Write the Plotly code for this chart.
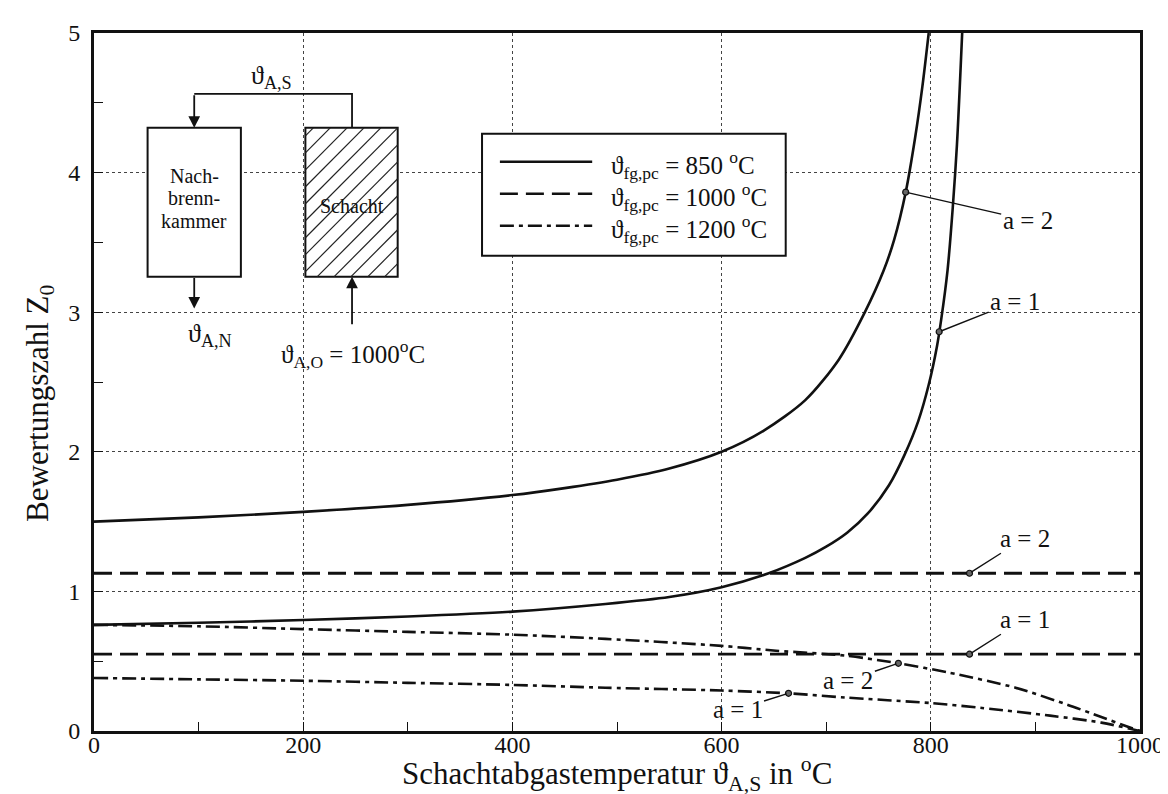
import plotly.graph_objects as go

# ---------------- data ----------------
t_850_a2 = [0, 100, 200, 300, 400, 450, 500, 550, 600, 640, 680, 712, 737, 755, 765, 776, 785, 792, 798]
z_850_a2 = [1.50, 1.53, 1.57, 1.62, 1.69, 1.74, 1.80, 1.88, 2.00, 2.15, 2.37, 2.66, 3.00, 3.30, 3.52, 3.86, 4.25, 4.62, 5.0]

t_850_a1 = [0, 100, 200, 300, 400, 489, 550, 600, 645, 680, 700, 720, 740, 760, 775, 788, 798, 806, 810, 816, 821, 825, 830]
z_850_a1 = [0.76, 0.775, 0.795, 0.82, 0.855, 0.91, 0.96, 1.03, 1.13, 1.24, 1.32, 1.42, 1.56, 1.76, 1.98, 2.22, 2.48, 2.76, 2.95, 3.30, 3.75, 4.20, 5.0]

t_1000 = [0, 1000]
z_1000_a2 = [1.13, 1.13]
z_1000_a1 = [0.55, 0.55]

t_1200_a2 = [0, 100, 200, 300, 400, 489, 600, 652, 718, 769, 816, 881, 930, 963, 985, 1000]
z_1200_a2 = [0.76, 0.75, 0.73, 0.71, 0.69, 0.66, 0.61, 0.575, 0.54, 0.485, 0.42, 0.31, 0.19, 0.10, 0.04, 0.0]

t_1200_a1 = [0, 100, 200, 300, 400, 489, 600, 664, 718, 800, 849, 914, 963, 1000]
z_1200_a1 = [0.38, 0.37, 0.36, 0.345, 0.33, 0.31, 0.29, 0.27, 0.24, 0.20, 0.165, 0.11, 0.06, 0.0]

label_t = [776, 808, 837, 837, 769, 664]
label_z = [3.86, 2.86, 1.13, 0.55, 0.485, 0.27]
label_text = ["a = 2", "a = 1", "a = 2", "a = 1", "a = 2", "a = 1"]

legend_names = ["\u03d1<sub>fg,pc</sub> = 850 <sup>o</sup>C",
                "\u03d1<sub>fg,pc</sub> = 1000 <sup>o</sup>C",
                "\u03d1<sub>fg,pc</sub> = 1200 <sup>o</sup>C"]

x_ticks = [0, 200, 400, 600, 800, 1000]
y_ticks = [0, 1, 2, 3, 4, 5]

# ---------------- layout helpers ----------------
FONT = "Liberation Serif, Times New Roman, serif"
X0, X1, Y0, Y1 = 86, 1140, 723, 24
W, H = 1168, 794


def dx(px):
    return (px - X0) / (X1 - X0) * 1000


def dy(py):
    return (Y0 - py) / (Y0 - Y1) * 5


def px_x(px):
    return (px - X0) / (X1 - X0)


def px_y(py):
    return (Y0 - py) / (Y0 - Y1)


SOLID = dict(color="#111", width=2.6)
DASH = dict(color="#111", width=2.8, dash="18px,8px")
DASHDOT = dict(color="#111", width=2.6, dash="14px,5px,4px,5px")

fig = go.Figure()
series = [
    (t_850_a2, z_850_a2, SOLID),
    (t_850_a1, z_850_a1, SOLID),
    (t_1000, z_1000_a2, DASH),
    (t_1000, z_1000_a1, DASH),
    (t_1200_a2, z_1200_a2, DASHDOT),
    (t_1200_a1, z_1200_a1, DASHDOT),
]
for t, z, ln in series:
    fig.add_trace(go.Scatter(x=t, y=z, mode="lines", line=dict(shape="spline", smoothing=0.8, **ln),
                             showlegend=False, hoverinfo="skip"))

fig.add_trace(go.Scatter(x=label_t, y=label_z, mode="markers",
                         marker=dict(size=6, color="#666", line=dict(color="#111", width=1.2)),
                         showlegend=False, hoverinfo="skip"))

shapes = []
annotations = []

# label leader lines (pixel offsets from the point to the text)
offsets = [(122, 28), (76, -30), (55, -35), (55, -35), (-50, 17), (-51, 16)]
for t, z, txt, (ax, ay) in zip(label_t, label_z, label_text, offsets):
    annotations.append(dict(x=t, y=z, xref="x", yref="y", text=txt, showarrow=True,
                            arrowhead=0, arrowwidth=1.4, arrowcolor="#111", ax=ax, ay=ay,
                            standoff=2, font=dict(family=FONT, size=25, color="#111")))

# ---------------- manual legend ----------------
shapes.append(dict(type="rect", xref="paper", yref="paper",
                   x0=px_x(477), x1=px_x(783), y0=px_y(247), y1=px_y(125),
                   line=dict(color="#111", width=2), fillcolor="white", layer="above"))
leg_styles = [SOLID, DASH, DASHDOT]
for i, (name, st) in enumerate(zip(legend_names, leg_styles)):
    yy = [153, 185, 217][i]
    shapes.append(dict(type="line", xref="paper", yref="paper",
                       x0=px_x(495), x1=px_x(588), y0=px_y(yy), y1=px_y(yy),
                       line=dict(color="#111", width=2.6, dash=st.get("dash", "solid")), layer="above"))
    annotations.append(dict(x=px_x(605), y=px_y(yy + 3), xref="paper", yref="paper", text=name,
                            showarrow=False, xanchor="left", yanchor="middle",
                            font=dict(family=FONT, size=25, color="#111")))

# ---------------- inset diagram ----------------
box_l = (140, 119, 234, 268)
box_r = (299, 119, 392, 268)
for (a, b, c, d) in (box_l, box_r):
    shapes.append(dict(type="rect", xref="x", yref="y", x0=dx(a), x1=dx(c), y0=dy(d), y1=dy(b),
                       line=dict(color="#111", width=2), fillcolor="white", layer="above"))
# hatching of the shaft box
xa0, ya0, xa1, ya1 = box_r
c = xa0 + ya0 + 8
while c < xa1 + ya1:
    xs = max(xa0, c - ya1)
    xe = min(xa1, c - ya0)
    if xe > xs:
        shapes.append(dict(type="line", xref="x", yref="y", x0=dx(xs), y0=dy(c - xs),
                           x1=dx(xe), y1=dy(c - xe), line=dict(color="#222", width=1.2), layer="above"))
    c += 17
# connector from shaft top to afterburner top
shapes.append(dict(type="path", xref="x", yref="y",
                   path=f"M {dx(346)},{dy(119)} L {dx(346)},{dy(85)} L {dx(187)},{dy(85)}",
                   line=dict(color="#111", width=1.8), layer="above"))
arrows = [((187, 119), (0, -34)), ((187, 300), (0, -32)), ((346, 268), (0, 49))]
for (px, py), (ax, ay) in arrows:
    annotations.append(dict(x=dx(px), y=dy(py), xref="x", yref="y", text="", showarrow=True,
                            arrowhead=2, arrowsize=1.3, arrowwidth=1.8, arrowcolor="#111",
                            ax=ax, ay=ay, standoff=0))

inset_texts = [
    (265, 68, "\u03d1<sub>A,S</sub>", 26),
    (203, 326, "\u03d1<sub>A,N</sub>", 26),
    (347, 345, "\u03d1<sub>A,O</sub> = 1000<sup>o</sup>C", 25),
    (187, 167, "Nach-", 20),
    (187, 189, "brenn-", 20),
    (187, 212, "kammer", 20),
    (346, 197, "Schacht", 20),
]
for px, py, txt, fs in inset_texts:
    annotations.append(dict(x=dx(px), y=dy(py), xref="x", yref="y", text=txt, showarrow=False,
                            xanchor="center", yanchor="middle",
                            font=dict(family=FONT, size=fs, color="#111")))

# y axis title
annotations.append(dict(x=px_x(32), y=px_y(395), xref="paper", yref="paper",
                        text="Bewertungszahl Z<sub>0</sub>", textangle=-90, showarrow=False,
                        xanchor="center", yanchor="middle",
                        font=dict(family=FONT, size=31, color="#111")))
# x axis title
annotations.append(dict(x=0.5, y=px_y(766), xref="paper", yref="paper",
                        text="Schachtabgastemperatur \u03d1<sub>A,S</sub> in <sup>o</sup>C",
                        showarrow=False, xanchor="center", yanchor="middle",
                        font=dict(family=FONT, size=31, color="#111")))

axis_common = dict(showline=True, linecolor="#111", linewidth=3, mirror=True,
                   ticks="inside", ticklen=9, tickwidth=1.3, tickcolor="#111",
                   showgrid=True, gridcolor="#444", gridwidth=1.4, griddash="dot",
                   zeroline=False, tickfont=dict(family=FONT, size=24, color="#111"))

fig.update_xaxes(range=[0, 1000], tickvals=x_ticks, ticktext=[str(v) for v in x_ticks],
                 minor=dict(dtick=100, ticks="inside", ticklen=9, tickcolor="#111", showgrid=False),
                 ticklabelstandoff=-10, **axis_common)
fig.update_yaxes(range=[0, 5], tickvals=y_ticks, ticktext=[str(v) for v in y_ticks],
                 minor=dict(dtick=0.5, ticks="inside", ticklen=9, tickcolor="#111", showgrid=False),
                 ticklabelstandoff=6, **axis_common)

fig.update_layout(width=W, height=H, autosize=False,
                  margin=dict(l=X0, r=W - X1, t=Y1, b=H - Y0),
                  plot_bgcolor="white", paper_bgcolor="white",
                  shapes=shapes, annotations=annotations, showlegend=False,
                  font=dict(family=FONT, color="#111"))

fig.write_html("out.html")
